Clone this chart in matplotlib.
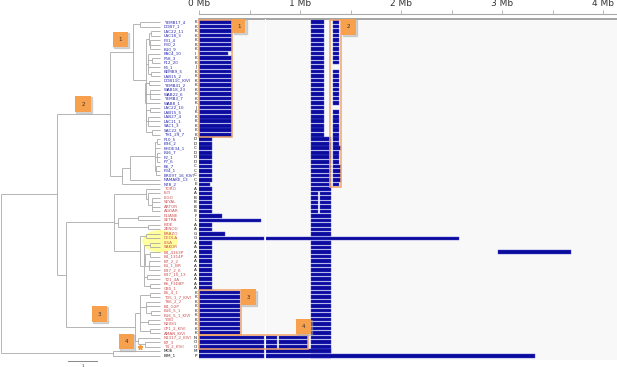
import matplotlib.pyplot as plt
from matplotlib.patches import Rectangle, Ellipse

# ---- data ----
labels = ['YEMB17_4', 'DOB7_1', 'LAC22_11', 'LAC18_3', 'F31_4', 'F30_2', 'B10_9', 'KAC4_10',
          'F58_3', 'F12_20', 'F4_1', 'KEMB9_5', 'LAB15_2', 'DOB11C_KIVI', 'YEMB41_2', 'WAB18_23',
          'WAB22_6', 'YEMB3_7', 'WAB8_1', 'LAC22_10', 'LAB15_5', 'LAB27_4', 'LAC11_1', 'SAC1_3',
          'SAC22_5', 'TH1_29_7', 'F10_5', 'B36_2', 'KHOE34_1', 'B16_7', 'F2_1', 'F7_6', 'B6_7',
          'F34_1', 'BR097_16_KIVI', 'NAMAKE_13', 'N78_2', 'TORO', 'ISTI', 'LIGO', 'SEYAL', 'ARTOR',
          'AGDAR', 'ELIANE', 'SETRA', 'KIDE', 'ZENOU', 'BRAZO', 'DEOLA', 'LISA', 'SAKOR',
          'B4_4163P', 'B4_1314P', 'B7_2_2', 'B1_1_BR', 'B37_2_6', 'B37_10_13', 'T21_4A',
          'B6_F3D8P', 'CB5_1', 'B5_4_1', 'T35_1_7_KIVI', 'T86_2_2', 'B4_G2P', 'B16_5_1',
          'B16_5_1_KIVI', 'Y3ID', 'N2081', 'CP1_2_KIVI', 'AMAN_KIVI', 'N1317_2_KIVI', 'B7_3',
          'T4_2_KIVI', 'MO6', 'BIM_1']

letters = (['K'] * 7 + ['I'] + ['K'] * 2 + ['J'] + ['K'] * 8 + ['J'] + ['K'] * 6
           + ['D', 'D', 'C', 'D', 'D', 'D', 'C', 'C', 'C', 'C', 'E']
           + ['A', 'A', 'B', 'B', 'B', 'B', 'F', 'L', 'A', 'A', 'G', 'G', 'A', 'A'] + ['A'] * 9
           + ['K'] * 10 + ['N', 'O', 'O', 'M', 'P'])

label_colors = ['#2c2cb0'] * 37 + ['#cf5252'] * 36 + ['#1a1a1a'] * 2

# first block, starting at 0 Mb (end in Mb)
left_end = ([0.325] * 7 + [0.29] + [0.325] * 18 + [0.13] * 10 + [0.11] + [0.13] * 6
            + [0.23, 0.61, 0.13, 0.13, 0.255, 0.645] + [0.13] * 11 + [0.41] * 10 + [0.645] * 5)

# middle block (~1.1-1.3 Mb)
mid_start = [1.11] * 38 + [1.20] * 5 + [1.11] * 32
mid_end = [1.24] * 26 + [1.31] * 49

# right block (~1.33-1.41 Mb), only the first 37 rows
right_end = ([1.39] * 10 + [None] + [1.39] * 8 + [None] + [1.39] * 6
             + [1.39, 1.39, 1.41, 1.39, 1.39, 1.39, 1.41, 1.41, 1.41, 1.41, 1.39] + [None] * 38)
right_start = 1.33

# remaining pieces
extra_row = [39, 40, 41, 42, 43, 49, 52, 71, 72, 73, 71, 72, 73, 74, 75]
extra_start = [1.11, 1.11, 1.11, 1.11, 1.11, 0.66, 2.96, 0.66, 0.66, 0.66, 0.79, 0.79, 0.79, 0.66, 0.66]
extra_end = [1.175, 1.175, 1.175, 1.175, 1.175, 2.57, 3.68, 0.775, 0.775, 0.775, 1.08, 1.08, 1.08, 1.31, 3.33]

mb_ticks = [0, 0.5, 1, 1.5, 2, 2.5, 3, 3.5, 4]
mb_tick_labels = ['0 Mb', '', '1 Mb', '', '2 Mb', '', '3 Mb', '', '4 Mb']

# tree: (node x in px, children), leaves are row numbers
clade1 = (133, [(140, [1, 2]),
                (146, [(149, [(151, [3, 4]), (150, [5, 6, 7])]),
                       (148, [8, (152, [9, 10]), 11, (151, [12, 13])]),
                       (145, [(149, [14, 15]), (150, [16, 17, 18]), 19]),
                       (146, [(150, [20, 21]), (148, [22, 23, 24]), (152, [25, 26])])])])
clade_bc = (122, [(130, [(155, [(157, [27, 28]), 29, (157, [30, 31, 32]), (156, [33, 34, 35])]), 36]), 37])
red_top = (114, [(146, [38, (148, [39, (152, [40, 41, 42, 43])])]),
                 (118, [(138, [44, 45]), (148, [46, 47])]),
                 (140, [(146, [48, 49]), (144, [(150, [50, 51]), (145, [(150, [52, 53]), (149, [54, 55, 56])]),
                                                (147, [57, 58]), (150, [59, 60])])])])
clade3 = (140, [(150, [61, 62]), (146, [63, 64, (151, [65, 66])]), (148, [67, 68]), (150, [69, 70])])
clade4 = (138, [71, (145, [72, 73])])
tree = (0.8, [(57, [(110, [clade1, clade_bc]), (66, [red_top, (135, [clade3, clade4])])]),
              (113, [74, 75])])

# ---- figure ----
W, H = 617, 367
top_px, bot_px = 19, 360
row_lim = (75.95, 0.335)
px_mb = 101.0

fig = plt.figure(figsize=(W / 100, H / 100), dpi=100)


def rect(x0, x1):
    return [x0 / W, 1 - bot_px / H, (x1 - x0) / W, (bot_px - top_px) / H]


ax = fig.add_axes(rect(199, 617))
tax = fig.add_axes(rect(0, 199))

# bars
ax.set_facecolor('#f8f8f8')
ax.set_xlim(0, 418 / px_mb)
ax.set_ylim(*row_lim)
bar_kw = dict(height=0.8, color='#0b0b9c', edgecolor='#4a4ad6', linewidth=0.3, zorder=2)
rows = list(range(1, len(labels) + 1))
ax.barh(rows, left_end, left=0, **bar_kw)
ax.barh(rows, [e - s for s, e in zip(mid_start, mid_end)], left=mid_start, **bar_kw)
r_rows = [r for r, e in zip(rows, right_end) if e is not None]
r_w = [e - right_start for e in right_end if e is not None]
ax.barh(r_rows, r_w, left=right_start, **bar_kw)
ax.barh(extra_row, [e - s for s, e in zip(extra_start, extra_end)], left=extra_start, **bar_kw)
ax.axvline(0.653, color='white', lw=0.7, zorder=3)

for s in ['left', 'right', 'bottom']:
    ax.spines[s].set_visible(False)
ax.spines['top'].set_color('#8c8c8c')
ax.spines['top'].set_linewidth(1.1)
ax.set_xticks([])
ax.set_yticks([])

# orange outlines and tags
outline = '#f2a66a'
for x0, x1, r0, r1 in [(0, 0.327, 0.5, 26.5), (1.30, 1.41, 0.5, 37.5),
                       (0, 0.415, 60.5, 70.5), (0, 1.08, 70.5, 73.5)]:
    ax.add_patch(Rectangle((x0, r0), x1 - x0, r1 - r0, fill=False, edgecolor=outline,
                           lw=1.1, zorder=4, clip_on=False))


def tag(axis, x0, r0, w, h, txt, sx, sy):
    axis.add_patch(Rectangle((x0 + sx, r0 + sy), w, h, color='#a8a8a8', alpha=0.45,
                             zorder=5, clip_on=False))
    axis.add_patch(Rectangle((x0, r0), w, h, facecolor='#f7a14e', edgecolor='none',
                             zorder=6, clip_on=False))
    axis.text(x0 + w / 2, r0 + h / 2, txt, ha='center', va='center', fontsize=4,
              color='#333333', zorder=7)


sx_mb, sy_row = 1.2 / px_mb, 1.2 / 4.51
tag(ax, 0.33, 0.3, 0.13, 3.2, '1', sx_mb, sy_row)
tag(ax, 1.41, 0.3, 0.14, 3.5, '2', sx_mb, sy_row)
tag(ax, 0.415, 60.3, 0.15, 3.5, '3', sx_mb, sy_row)
tag(ax, 0.96, 66.9, 0.15, 3.3, '4', sx_mb, sy_row)

# ruler at the top
rax = fig.add_axes([199 / W, 1 - 14.5 / H, 418 / W, 0.5 / H])
rax.set_xlim(0, 418 / px_mb)
rax.patch.set_visible(False)
for s in ['left', 'right', 'bottom']:
    rax.spines[s].set_visible(False)
rax.spines['top'].set_color('#aaaaaa')
rax.spines['top'].set_linewidth(0.8)
rax.xaxis.tick_top()
rax.set_xticks(mb_ticks)
rax.set_xticklabels(mb_tick_labels)
rax.set_yticks([])
rax.tick_params(axis='x', direction='out', length=3, width=0.6, colors='#aaaaaa',
                labelcolor='#333333', labelsize=6.5, pad=1)

# tree
tax.set_xlim(0, 199)
tax.set_ylim(*row_lim)
tax.axis('off')
tip_x = 160
line_kw = dict(color='#a8a8a8', lw=0.6, solid_capstyle='butt')


def draw(node):
    if isinstance(node, int):
        return node, tip_x
    x, kids = node
    ys = []
    for k in kids:
        ky, kx = draw(k)
        tax.plot([x, kx], [ky, ky], **line_kw)
        ys.append(ky)
    tax.plot([x, x], [ys[0], ys[-1]], **line_kw)
    return (ys[0] + ys[-1]) / 2, x


draw(tree)

tax.add_patch(Ellipse((160, 49.6), 34, 4.6, color='#ffff88', alpha=0.8, zorder=0))

for r, lab, let, c in zip(rows, labels, letters, label_colors):
    tax.text(164, r, lab, fontsize=3, color=c, va='center', ha='left')
    tax.text(195.5, r, let, fontsize=3, color='#111111', va='center', ha='center')

tag(tax, 113, 3.2, 15, 3.3, '1', 1.2, sy_row)
tag(tax, 75, 17.4, 16, 3.6, '2', 1.2, sy_row)
tag(tax, 92, 64.0, 15, 3.5, '3', 1.2, sy_row)
tag(tax, 119, 70.2, 15, 3.4, '4', 1.2, sy_row)
tax.plot([140], [73.1], marker='*', color='#f29a3c', markersize=3.5, zorder=8)

# scale bar
tax.plot([68, 97], [76.2, 76.2], color='#888888', lw=0.7, clip_on=False)
tax.text(82.5, 77.2, '1', fontsize=3, ha='center', va='center', color='#333333', clip_on=False)

fig.savefig('out.png', dpi=100, facecolor='white')
